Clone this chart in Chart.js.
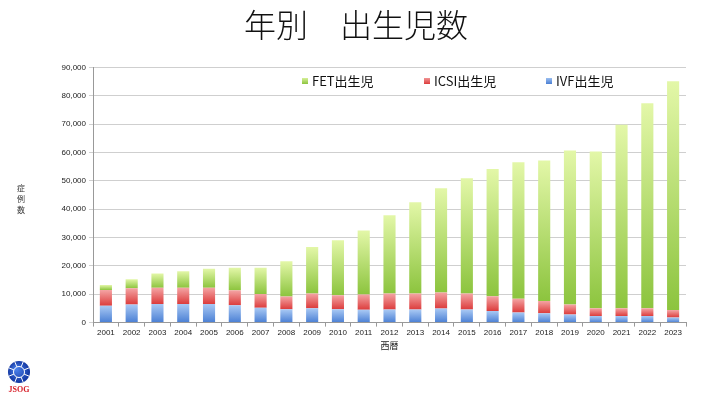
<!DOCTYPE html>
<html>
<head>
<meta charset="utf-8">
<script src="https://cdn.jsdelivr.net/npm/chart.js@4"></script>
<style>
  html, body { margin: 0; padding: 0; background: #fff; }
  #wrap { width: 701px; height: 398px; position: relative; }
</style>
</head>
<body>
<div id="wrap"><canvas id="birthChart"></canvas></div>
<script>
// 年（西暦）
let years = ['2001','2002','2003','2004','2005','2006','2007','2008','2009','2010','2011','2012',
             '2013','2014','2015','2016','2017','2018','2019','2020','2021','2022','2023'];

// IVF出生児
let ivfBirths = [5900, 6400, 6600, 6600, 6600, 6100, 5200, 4700, 5100, 4700, 4500, 4600,
                 4600, 5000, 4600, 4100, 3600, 3300, 2900, 2300, 2300, 2300, 1800];

// ICSI出生児
let icsiBirths = [5600, 5700, 5650, 5650, 5650, 5300, 4850, 4500, 5200, 4950, 5450, 5650,
                  5650, 5650, 5650, 5200, 4850, 4350, 3450, 2750, 2750, 2750, 2600];

// FET出生児
let fetBirths = [1750, 3200, 5100, 5900, 6750, 7900, 9300, 12400, 16400, 19400, 22500, 27600,
                 32200, 36700, 40700, 44900, 48100, 49500, 54300, 55300, 64700, 72300, 80700];

// 目盛り
let yTicks = [0, 10000, 20000, 30000, 40000, 50000, 60000, 70000, 80000, 90000];

// 色（上・下）
let colorSets = [
  { top: '#a9c9f4', bottom: '#4a7fd4', mid: '#6b99e0' },  // IVF
  { top: '#f4a4a4', bottom: '#dc3c3c', mid: '#e46262' },  // ICSI
  { top: '#e3f7a8', bottom: '#8cc43e', mid: '#b3dc6c' }   // FET
];
let seriesData = [ivfBirths, icsiBirths, fetBirths];

// 棒ごとのグラデーション
function barGradient(ctx) {
  let set = colorSets[ctx.datasetIndex];
  let chart = ctx.chart;
  if (ctx.type !== 'data' || !chart.chartArea) return set.mid;
  let i = ctx.dataIndex;
  let base = 0;
  for (let d = 0; d < ctx.datasetIndex; d++) base += seriesData[d][i];
  let y = chart.scales.y;
  let y0 = y.getPixelForValue(base);
  let y1 = y.getPixelForValue(base + seriesData[ctx.datasetIndex][i]);
  if (!isFinite(y0) || !isFinite(y1) || y0 === y1) return set.mid;
  let g = chart.ctx.createLinearGradient(0, y1, 0, y0);
  g.addColorStop(0, set.top);
  g.addColorStop(1, set.bottom);
  return g;
}

// 凡例・縦軸タイトル・ロゴ
let extrasPlugin = {
  id: 'extras',
  afterDraw(chart) {
    let c = chart.ctx;
    c.save();
    // 凡例
    let legendItems = [
      { text: 'FET出生児', set: colorSets[2], x: 302 },
      { text: 'ICSI出生児', set: colorSets[1], x: 424 },
      { text: 'IVF出生児', set: colorSets[0], x: 546 }
    ];
    c.font = '13px "Noto Sans CJK JP"';
    c.textBaseline = 'middle';
    c.textAlign = 'left';
    legendItems.forEach(function (item) {
      let g = c.createLinearGradient(0, 77, 0, 84);
      g.addColorStop(0, item.set.top);
      g.addColorStop(1, item.set.bottom);
      c.fillStyle = g;
      c.fillRect(item.x, 78, 6, 6);
      c.fillStyle = '#111';
      c.fillText(item.text, item.x + 10, 81);
    });

    // 縦軸タイトル
    c.font = '8px "Noto Sans CJK JP"';
    c.textAlign = 'center';
    c.fillStyle = '#333';
    ['症', '例', '数'].forEach(function (ch, k) {
      c.fillText(ch, 21, 188 + k * 11);
    });

    // JSOG ロゴ
    let rg = c.createRadialGradient(16, 369, 1, 19, 372, 12);
    rg.addColorStop(0, '#4a80ea');
    rg.addColorStop(1, '#0d2f9a');
    c.fillStyle = rg;
    c.beginPath();
    c.arc(19, 372, 11, 0, Math.PI * 2);
    c.fill();
    c.strokeStyle = '#ffffff';
    c.lineWidth = 1;
    c.beginPath();
    c.arc(19, 372, 5.5, 0, Math.PI * 2);
    c.stroke();
    [0, 1, 2, 3, 4, 5, 6, 7].forEach(function (k) {
      let a = k * Math.PI / 4 + Math.PI / 8;
      c.beginPath();
      c.moveTo(19 + Math.cos(a) * 5.5, 372 + Math.sin(a) * 5.5);
      c.lineTo(19 + Math.cos(a) * 11, 372 + Math.sin(a) * 11);
      c.stroke();
    });
    c.font = 'bold 8px "Liberation Serif"';
    c.fillStyle = '#d8202a';
    c.textAlign = 'center';
    c.fillText('JSOG', 19, 390);
    c.restore();
  }
};

let birthCanvas = document.querySelector('#birthChart');
new Chart(birthCanvas, {
  type: 'bar',
  data: {
    labels: years,
    datasets: [
      { label: 'IVF出生児', data: ivfBirths, backgroundColor: barGradient, borderWidth: 0 },
      { label: 'ICSI出生児', data: icsiBirths, backgroundColor: barGradient, borderWidth: 0 },
      { label: 'FET出生児', data: fetBirths, backgroundColor: barGradient, borderWidth: 0 }
    ]
  },
  options: {
    responsive: true,
    maintainAspectRatio: false,
    animation: false,
    datasets: { bar: { categoryPercentage: 1, barPercentage: 0.47 } },
    layout: { padding: { left: 26, right: 15, top: 0, bottom: 43 } },
    plugins: {
      legend: { display: false },
      tooltip: { enabled: false },
      title: {
        display: true,
        text: '年別　出生児数',
        color: '#111',
        font: { family: '"Noto Sans CJK JP"', size: 32, weight: 300 },
        padding: { top: 6, bottom: 23 }
      }
    },
    scales: {
      x: {
        stacked: true,
        grid: { display: true, drawOnChartArea: false, tickLength: 4, color: '#999' },
        border: { color: '#999' },
        ticks: { color: '#222', font: { family: '"Liberation Sans"', size: 8 }, padding: 1, maxRotation: 0, autoSkip: false },
        title: {
          display: true,
          text: '西暦',
          color: '#222',
          font: { family: '"Noto Sans CJK JP"', size: 9 },
          padding: { top: 2, bottom: 4 }
        }
      },
      y: {
        stacked: true,
        min: 0,
        max: 90000,
        afterBuildTicks: function (axis) {
          axis.ticks = yTicks.map(function (v) { return { value: v }; });
        },
        afterFit: function (axis) {
          axis.width = 67;
        },
        grid: { color: '#cfcfcf', tickLength: 4 },
        border: { color: '#999' },
        ticks: {
          color: '#222',
          font: { family: '"Liberation Sans"', size: 8 },
          padding: 3,
          callback: function (v) { return v.toLocaleString('en-US'); }
        }
      }
    }
  },
  plugins: [extrasPlugin]
});
</script>
</body>
</html>
